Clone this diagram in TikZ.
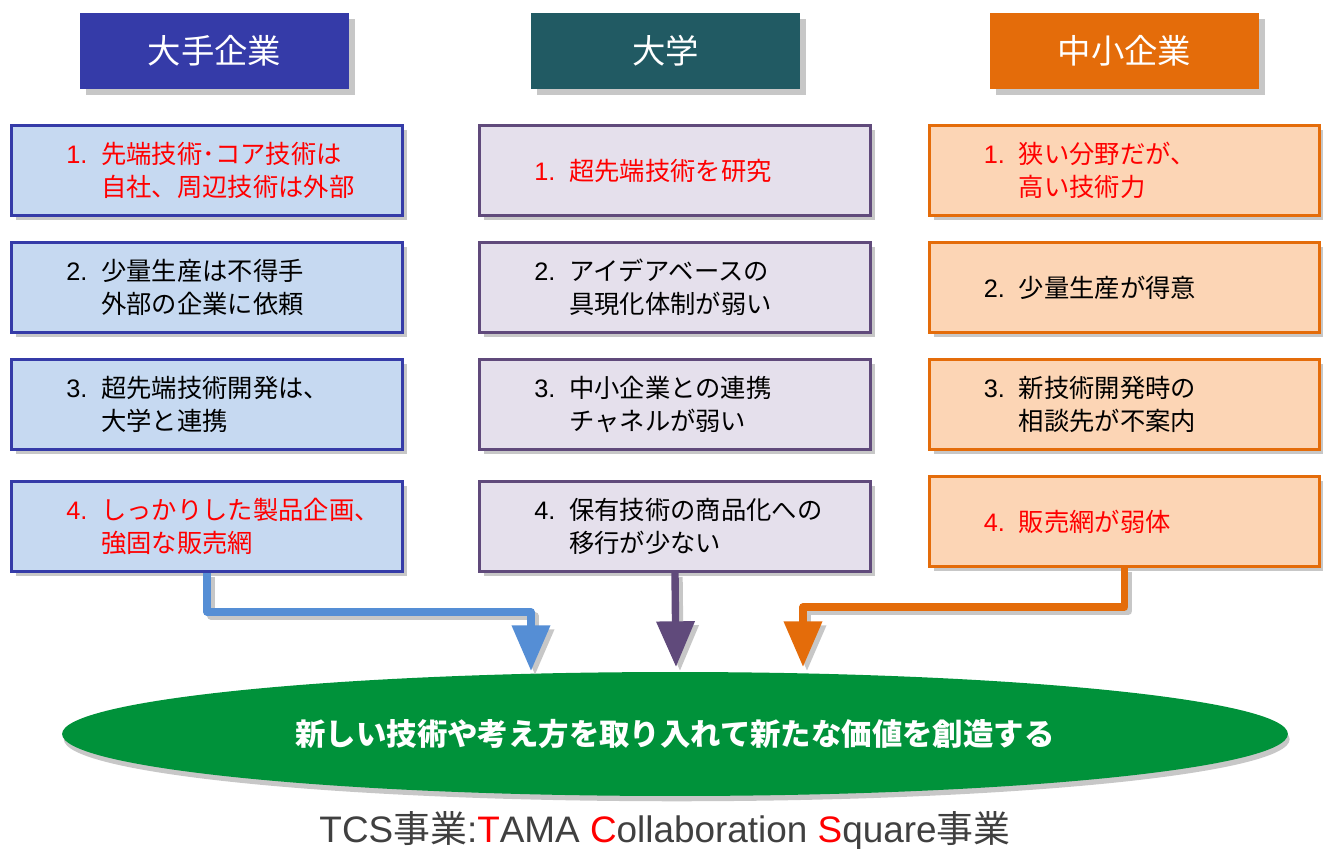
\documentclass[tikz,border=0pt]{standalone}
\usepackage{fontspec}
\setmainfont{Noto Sans CJK JP}
\newfontfamily\lat{Liberation Sans}
\usepackage{xcolor}
\usetikzlibrary{positioning,shapes.geometric,shadows,arrows.meta}

\definecolor{bigblue}{HTML}{353BA8}
\definecolor{bigfill}{HTML}{C6D9F1}
\definecolor{unihead}{HTML}{215A63}
\definecolor{uniline}{HTML}{604A7B}
\definecolor{unifill}{HTML}{E5E0EC}
\definecolor{smbline}{HTML}{E46C0A}
\definecolor{smbfill}{HTML}{FCD5B5}
\definecolor{arrblue}{HTML}{558ED5}
\definecolor{goalgreen}{HTML}{00923A}
\definecolor{capgray}{HTML}{404040}

\newcommand{\itemno}[1]{\makebox[0.7cm][l]{\lat #1}}
\newcommand{\indentno}{\hspace*{0.7cm}}

\begin{document}
\begin{tikzpicture}[
    x=0.02cm, y=-0.02cm,
    node distance=0.48cm,
    head/.style={rectangle, minimum width=5.38cm, minimum height=1.52cm,
                 text=white, font=\fontsize{19}{22}\selectfont,
                 drop shadow={shadow xshift=3.5pt, shadow yshift=-3.5pt,
                              fill=black!22, opacity=1}},
    box/.style={rectangle, draw, line width=1.7pt, minimum width=7.82cm,
                minimum height=1.8cm,
                drop shadow={shadow xshift=2.8pt, shadow yshift=-2.8pt,
                             fill=black!22, opacity=1}},
    txt/.style={anchor=west, align=left, inner sep=0pt,
                font=\fontsize{14.4}{18.7}\selectfont},
    arr/.style={line width=4.2pt, line join=round,
                -{Triangle[length=26pt,width=21pt]}},
    shd/.style={draw=black!22, transform canvas={shift={(4,4)}}}
]
\useasboundingbox (0,0) rectangle (1323,849);
\clip (0,0) rectangle (1323,849);

%% column heads
\node[head, fill=bigblue] (head_big) at (214.5,51)  {大手企業};
\node[head, fill=unihead] (head_uni) at (665.5,51)  {大学};
\node[head, fill=smbline] (head_smb) at (1124.5,51) {中小企業};

%% 大手企業 column
\node[box, draw=bigblue, fill=bigfill] (big1) at (207,170.5) {};
\node[box, draw=bigblue, fill=bigfill, below=of big1] (big2) {};
\node[box, draw=bigblue, fill=bigfill, below=of big2] (big3) {};
\node[box, draw=bigblue, fill=bigfill, below=0.58cm of big3] (big4) {};

\node[txt, text=red] (big1_txt) at ([xshift=1.12cm]big1.west)
  {\itemno{1.}先端技術･コア技術は\\\indentno 自社、周辺技術は外部};
\node[txt] (big2_txt) at ([xshift=1.12cm]big2.west)
  {\itemno{2.}少量生産は不得手\\\indentno 外部の企業に依頼};
\node[txt] (big3_txt) at ([xshift=1.12cm]big3.west)
  {\itemno{3.}超先端技術開発は、\\\indentno 大学と連携};
\node[txt, text=red] (big4_txt) at ([xshift=1.12cm]big4.west)
  {\itemno{4.}しっかりした製品企画、\\\indentno 強固な販売網};

%% 大学 column
\node[box, draw=uniline, fill=unifill] (uni1) at (675,170.5) {};
\node[box, draw=uniline, fill=unifill, below=of uni1] (uni2) {};
\node[box, draw=uniline, fill=unifill, below=of uni2] (uni3) {};
\node[box, draw=uniline, fill=unifill, below=0.58cm of uni3] (uni4) {};

\node[txt, text=red] (uni1_txt) at ([xshift=1.12cm]uni1.west)
  {\itemno{1.}超先端技術を研究};
\node[txt] (uni2_txt) at ([xshift=1.12cm]uni2.west)
  {\itemno{2.}アイデアベースの\\\indentno 具現化体制が弱い};
\node[txt] (uni3_txt) at ([xshift=1.12cm]uni3.west)
  {\itemno{3.}中小企業との連携\\\indentno チャネルが弱い};
\node[txt] (uni4_txt) at ([xshift=1.12cm]uni4.west)
  {\itemno{4.}保有技術の商品化への\\\indentno 移行が少ない};

%% 中小企業 column
\node[box, draw=smbline, fill=smbfill] (smb1) at (1124.5,170.5) {};
\node[box, draw=smbline, fill=smbfill, below=of smb1] (smb2) {};
\node[box, draw=smbline, fill=smbfill, below=of smb2] (smb3) {};
\node[box, draw=smbline, fill=smbfill, below=of smb3] (smb4) {};

\node[txt, text=red] (smb1_txt) at ([xshift=1.12cm]smb1.west)
  {\itemno{1.}狭い分野だが、\\\indentno 高い技術力};
\node[txt] (smb2_txt) at ([xshift=1.12cm]smb2.west)
  {\itemno{2.}少量生産が得意};
\node[txt] (smb3_txt) at ([xshift=1.12cm]smb3.west)
  {\itemno{3.}新技術開発時の\\\indentno 相談先が不案内};
\node[txt, text=red] (smb4_txt) at ([xshift=1.12cm]smb4.west)
  {\itemno{4.}販売網が弱体};

%% common goal
\node[ellipse, fill=goalgreen, minimum width=24.52cm, minimum height=2.48cm,
      inner sep=0pt, text=white, font=\fontsize{17.3}{20}\selectfont\bfseries,
      drop shadow={shadow xshift=1pt, shadow yshift=-3pt, fill=black!22, opacity=1}]
  (goal) at (675,734) {新しい技術や考え方を取り入れて新たな価値を創造する};

%% arrows into the goal
\coordinate (bend_big) at (531,612);
\coordinate (tip_big)  at (531,671);
\coordinate (tip_uni)  at (676,667);
\coordinate (bend_smb) at (803,607);
\coordinate (tip_smb)  at (803,667);

\draw[arr, shd] (big4.south) |- (bend_big) -- (tip_big);
\draw[arr, shd] (uni4.south) -- (tip_uni);
\draw[arr, shd] (smb4.south) |- (bend_smb) -- (tip_smb);
\draw[arr, draw=arrblue] (big4.south) |- (bend_big) -- (tip_big);
\draw[arr, draw=uniline] (uni4.south) -- (tip_uni);
\draw[arr, draw=smbline] (smb4.south) |- (bend_smb) -- (tip_smb);

%% caption
\node[text=capgray, font=\fontsize{21}{24}\selectfont] (caption) at (665,831)
  {{\lat TCS}事業{\lat :\textcolor{red}{T}AMA \textcolor{red}{C}ollaboration
   \textcolor{red}{S}quare}事業};

\end{tikzpicture}
\end{document}
